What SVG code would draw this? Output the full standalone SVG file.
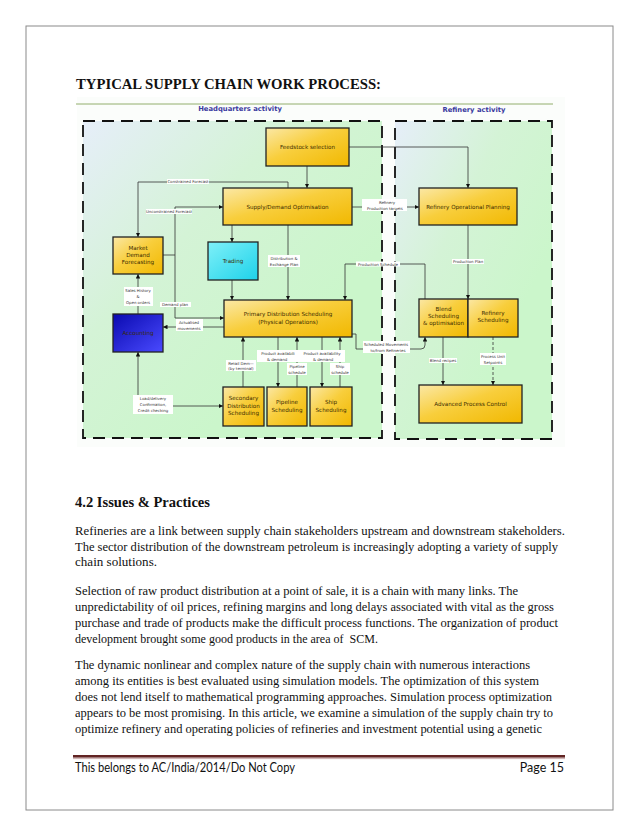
<svg xmlns="http://www.w3.org/2000/svg" width="638" height="826" viewBox="0 0 638 826">
<style>
.body{font-family:"Liberation Serif","Times New Roman",serif;font-size:12.5px;fill:#111}
.box{stroke:#222;stroke-width:1.3}
.bt{font-family:"DejaVu Sans",Verdana,sans-serif;font-size:5.6px;fill:#3a2a00;text-anchor:middle}
.lt{font-family:"DejaVu Sans",Verdana,sans-serif;font-size:3.9px;fill:#333;text-anchor:middle}
.lb{fill:#fff}
.cn{fill:none;stroke:#333;stroke-width:0.8}
.zone{stroke:#111;stroke-width:1.8;stroke-dasharray:12 7}
.hd{font-family:"DejaVu Sans",Verdana,sans-serif;font-size:6.8px;font-weight:bold;fill:#3a3aa0;text-anchor:middle}
.foot{font-family:Lato,"Liberation Sans",sans-serif;font-size:12.5px;fill:#111}
</style>
<defs>
<linearGradient id="gy" x1="0" y1="0" x2="1" y2="1">
<stop offset="0" stop-color="#fbe8a6"/><stop offset="0.45" stop-color="#f8ce3c"/><stop offset="1" stop-color="#f1b800"/>
</linearGradient>
<linearGradient id="gc" x1="0" y1="0" x2="1" y2="1">
<stop offset="0" stop-color="#7ff0f8"/><stop offset="1" stop-color="#1ed2ea"/>
</linearGradient>
<linearGradient id="gb" x1="0" y1="0" x2="1" y2="1">
<stop offset="0" stop-color="#0a0ab0"/><stop offset="1" stop-color="#4a4aff"/>
</linearGradient>
<linearGradient id="gz" x1="0" y1="0" x2="0.7" y2="0.7">
<stop offset="0" stop-color="#e6eef9"/><stop offset="0.5" stop-color="#d4f3d6"/><stop offset="1" stop-color="#cbf6cb"/>
</linearGradient>
<marker id="ah" viewBox="0 0 10 10" refX="10" refY="5" markerWidth="4.5" markerHeight="4.5" orient="auto-start-reverse" markerUnits="userSpaceOnUse">
<path d="M0,0 L10,5 L0,10 z" fill="#111"/>
</marker>
</defs>

<rect x="26" y="26" width="587" height="784" fill="none" stroke="#8a8a8a" stroke-width="1"/>

<text x="76" y="89" font-family="Liberation Serif,Times New Roman,serif" font-size="15" font-weight="bold" fill="#111" textLength="305" lengthAdjust="spacingAndGlyphs">TYPICAL SUPPLY CHAIN WORK PROCESS:</text>

<g id="zones">
<rect x="77" y="97" width="488" height="350" fill="#fbfdfb"/>
<line x1="76" y1="104" x2="553" y2="104" stroke="#7a9a4a" stroke-width="0.8"/>
<text class="hd" x="240" y="111">Headquarters activity</text>
<text class="hd" x="474" y="112">Refinery activity</text>
<rect class="zone" x="83" y="121" width="299" height="317" fill="url(#gz)"/>
<rect class="zone" x="395" y="121" width="157" height="318" fill="url(#gz)"/>
</g>

<g id="connectors" marker-end="url(#ah)">
<path class="cn" d="M307,166 V188"/>
<path class="cn" d="M349,147 H468 V188"/>
<path class="cn" d="M288,188 V182 H138 V237"/>
<path class="cn" d="M163,255 H175 V207 H223"/>
<path class="cn" d="M175,255 V318 H224"/>
<path class="cn" d="M232,225 V242"/>
<path class="cn" d="M232,280 V300"/>
<path class="cn" d="M288,225 V300"/>
<path class="cn" d="M352,207 H419"/>
<path class="cn" d="M468,225 V299"/>
<path class="cn" d="M425,299 V264 H345 V300"/>
<path class="cn" d="M224,327 H163"/>
<path class="cn" d="M138,314 V274"/>
<path class="cn" d="M138,352 V406 H223" marker-start="url(#ah)"/>
<path class="cn" d="M243,387 V337"/>
<path class="cn" d="M278,337 V387"/>
<path class="cn" d="M297,387 V337"/>
<path class="cn" d="M322,337 V387"/>
<path class="cn" d="M340,387 V337"/>
<path class="cn" d="M352,334 H356 V349 H421 Q425,349 425,345 V337"/>
<path class="cn" d="M443,337 V385"/>
<path class="cn" d="M493,337 V385" stroke-dasharray="3 2"/>
</g>

<g id="connector-labels">
<rect class="lb" x="167" y="179" width="42" height="5"/>
<text class="lt" x="188" y="183.4">Constrained Forecast</text>
<rect class="lb" x="146" y="209" width="46" height="5"/>
<text class="lt" x="169" y="213.4">Unconstrained Forecast</text>
<rect class="lb" x="160" y="302" width="31" height="5"/>
<text class="lt" x="175" y="306.4">Demand plan</text>
<rect class="lb" x="268" y="255" width="32" height="12"/>
<text class="lt" x="284" y="259.5">Distribution &amp;</text>
<text class="lt" x="284" y="265.5">Exchange Plan</text>
<rect class="lb" x="362" y="199" width="45" height="12"/>
<text class="lt" x="387" y="203.5">Refinery</text>
<text class="lt" x="385" y="209.5">Production targets</text>
<rect class="lb" x="452" y="259" width="32" height="5"/>
<text class="lt" x="468" y="263.4">Production Plan</text>
<rect class="lb" x="356" y="261.5" width="44" height="5"/>
<text class="lt" x="378" y="265.8">Production Schedule</text>
<rect class="lb" x="176" y="319" width="27" height="12"/>
<text class="lt" x="189" y="323.5">Actualised</text>
<text class="lt" x="189" y="329.5">movements</text>
<rect class="lb" x="124" y="287" width="29" height="19"/>
<text class="lt" x="138" y="291.5">Sales History</text>
<text class="lt" x="138" y="297.5">&amp;</text>
<text class="lt" x="138" y="303.5">Open orders</text>
<rect class="lb" x="133" y="395" width="40" height="19"/>
<text class="lt" x="153" y="399.5">Load/delivery</text>
<text class="lt" x="153" y="405.5">Confirmation,</text>
<text class="lt" x="153" y="411.5">Credit checking</text>
<rect class="lb" x="226" y="360" width="30" height="11"/>
<text class="lt" x="241" y="364.5">Retail Dem—</text>
<text class="lt" x="241" y="369.5" font-size="3">(by terminal)</text>
<rect class="lb" x="257" y="350" width="88" height="12"/>
<text class="lt" x="278" y="354.5">Product availabili</text>
<text class="lt" x="322" y="354.5">Product availability</text>
<text class="lt" x="277" y="360.5">&amp; demand</text>
<text class="lt" x="323" y="360.5">&amp; demand</text>
<rect class="lb" x="287" y="363" width="20" height="12"/>
<text class="lt" x="297" y="367.5">Pipeline</text>
<text class="lt" x="297" y="373.5">schedule</text>
<rect class="lb" x="330" y="363" width="20" height="12"/>
<text class="lt" x="340" y="367.5">Ship</text>
<text class="lt" x="340" y="373.5">schedule</text>
<rect class="lb" x="363" y="341" width="47" height="12"/>
<text class="lt" x="386" y="345.5">Scheduled Movements</text>
<text class="lt" x="388" y="351.5">to/from Refineries</text>
<rect class="lb" x="429" y="358" width="28" height="5"/>
<text class="lt" x="443" y="362.4">Blend recipes</text>
<rect class="lb" x="480" y="353" width="26" height="12"/>
<text class="lt" x="493" y="357.5">Process Unit</text>
<text class="lt" x="493" y="363.5">Setpoints</text>
</g>

<g id="feedstock"><rect class="box" x="266" y="128" width="83" height="38" fill="url(#gy)"/><text class="bt" x="307.5" y="149">Feedstock selection</text></g>
<g id="supply-demand"><rect class="box" x="223" y="188" width="129" height="37" fill="url(#gy)"/><text class="bt" x="287.5" y="208.5">Supply/Demand Optimisation</text></g>
<g id="refinery-planning"><rect class="box" x="419" y="188" width="98" height="37" fill="url(#gy)"/><text class="bt" x="468" y="208.5">Refinery Operational Planning</text></g>
<g id="market-demand"><rect class="box" x="113" y="237" width="50" height="37" fill="url(#gy)"/><text class="bt" x="138" y="250">Market</text><text class="bt" x="138" y="257">Demand</text><text class="bt" x="138" y="264">Forecasting</text></g>
<g id="trading"><rect class="box" x="208" y="242" width="50" height="38" fill="url(#gc)"/><text class="bt" x="233" y="263" fill="#1a3a4a">Trading</text></g>
<g id="primary-distribution"><rect class="box" x="224" y="300" width="128" height="37" fill="url(#gy)"/><text class="bt" x="288" y="316">Primary Distribution Scheduling</text><text class="bt" x="288" y="324">(Physical Operations)</text></g>
<g id="accounting"><rect class="box" x="113" y="314" width="50" height="38" fill="url(#gb)"/><text class="bt" x="138" y="335" fill="#00006a">Accounting</text></g>
<g id="blend-scheduling"><rect class="box" x="419" y="299" width="49" height="38" fill="url(#gy)"/><text class="bt" x="443.5" y="311">Blend</text><text class="bt" x="443.5" y="318">Scheduling</text><text class="bt" x="443.5" y="325">&amp; optimisation</text></g>
<g id="refinery-scheduling"><rect class="box" x="468" y="299" width="50" height="38" fill="url(#gy)"/><text class="bt" x="493" y="315">Refinery</text><text class="bt" x="493" y="322">Scheduling</text></g>
<g id="secondary-distribution"><rect class="box" x="223" y="387" width="41" height="39" fill="url(#gy)"/><text class="bt" x="243.5" y="400">Secondary</text><text class="bt" x="243.5" y="407.5">Distribution</text><text class="bt" x="243.5" y="415">Scheduling</text></g>
<g id="pipeline-scheduling"><rect class="box" x="267" y="387" width="40" height="39" fill="url(#gy)"/><text class="bt" x="287" y="404">Pipeline</text><text class="bt" x="287" y="411.5">Scheduling</text></g>
<g id="ship-scheduling"><rect class="box" x="310" y="387" width="42" height="39" fill="url(#gy)"/><text class="bt" x="331" y="404">Ship</text><text class="bt" x="331" y="411.5">Scheduling</text></g>
<g id="apc"><rect class="box" x="419" y="385" width="103" height="38" fill="url(#gy)"/><text class="bt" x="470.5" y="406">Advanced Process Control</text></g>

<text x="75" y="507" font-family="Liberation Serif,Times New Roman,serif" font-size="15" font-weight="bold" fill="#111" textLength="135" lengthAdjust="spacingAndGlyphs">4.2 Issues &amp; Practices</text>

<g id="paragraphs" class="body">
<text x="75" y="535" textLength="490" lengthAdjust="spacingAndGlyphs">Refineries are a link between supply chain stakeholders upstream and downstream stakeholders.</text>
<text x="75" y="551" textLength="483" lengthAdjust="spacingAndGlyphs">The sector distribution of the downstream petroleum is increasingly adopting a variety of supply</text>
<text x="75" y="566" textLength="82" lengthAdjust="spacingAndGlyphs">chain solutions.</text>
<text x="75" y="595" textLength="443" lengthAdjust="spacingAndGlyphs">Selection of raw product distribution at a point of sale, it is a chain with many links. The</text>
<text x="75" y="611" textLength="479" lengthAdjust="spacingAndGlyphs">unpredictability of oil prices, refining margins and long delays associated with vital as the gross</text>
<text x="75" y="627" textLength="483" lengthAdjust="spacingAndGlyphs">purchase and trade of products make the difficult process functions. The organization of product</text>
<text x="75" y="643" xml:space="preserve" textLength="303" lengthAdjust="spacingAndGlyphs">development brought some good products in the area of  SCM.</text>
<text x="75" y="669" textLength="455" lengthAdjust="spacingAndGlyphs">The dynamic nonlinear and complex nature of the supply chain with numerous interactions</text>
<text x="75" y="685" textLength="464" lengthAdjust="spacingAndGlyphs">among its entities is best evaluated using simulation models. The optimization of this system</text>
<text x="75" y="701" textLength="477" lengthAdjust="spacingAndGlyphs">does not lend itself to mathematical programming approaches. Simulation process optimization</text>
<text x="75" y="717" textLength="478" lengthAdjust="spacingAndGlyphs">appears to be most promising. In this article, we examine a simulation of the supply chain try to</text>
<text x="75" y="733" textLength="467" lengthAdjust="spacingAndGlyphs">optimize refinery and operating policies of refineries and investment potential using a genetic</text>
</g>

<g id="footer">
<rect x="73" y="755" width="492" height="2.6" fill="#622423"/>
<line x1="73" y1="758.6" x2="565" y2="758.6" stroke="#b58a8a" stroke-width="0.7"/>
<text class="foot" x="75" y="772" textLength="220" lengthAdjust="spacingAndGlyphs">This belongs to AC/India/2014/Do Not Copy</text>
<text class="foot" x="564" y="772" text-anchor="end">Page 15</text>
</g>
</svg>
